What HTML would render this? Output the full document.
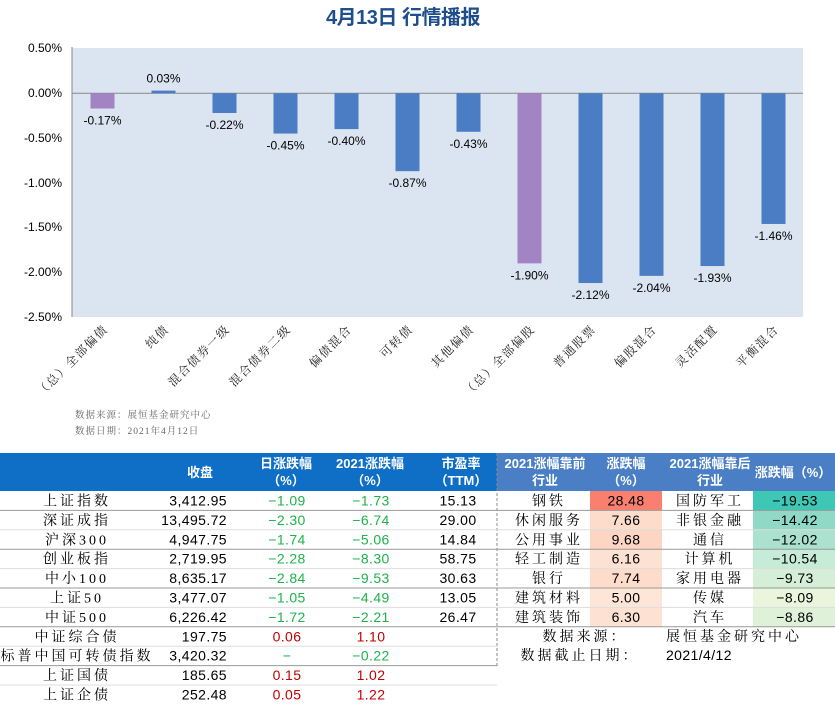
<!DOCTYPE html>
<html><head><meta charset="utf-8"><style>
body{margin:0;width:835px;height:708px;background:#fff;overflow:hidden;position:relative}
svg{position:absolute;left:0;top:0}
.ax{font-family:"Liberation Sans",sans-serif;font-size:12px;fill:#000}
.cat{font-family:"Liberation Serif","Noto Serif CJK SC",serif;font-size:12px;fill:#222;letter-spacing:1.5px}
.t{font-family:"Liberation Sans","Noto Serif CJK SC",serif;font-size:14px;letter-spacing:0.4px}
.c{font-family:"Liberation Serif","Noto Serif CJK SC",serif;font-size:14px;letter-spacing:3px}
.h{font-family:"Liberation Sans","Noto Sans CJK SC",sans-serif;font-size:13px;font-weight:bold;fill:#fff}
</style></head><body>
<svg width="835" height="708" xmlns="http://www.w3.org/2000/svg">
<text x="403" y="24" text-anchor="middle" font-family="'Liberation Sans','Noto Sans CJK SC',sans-serif" font-size="20" font-weight="bold" fill="#1f4e8c" letter-spacing="-0.5">4月13日  行情播报</text>
<rect x="72" y="48" width="731" height="269" fill="#dbe5f1"/>
<line x1="72" y1="47" x2="72" y2="317" stroke="#888"/>
<line x1="72" y1="93.3" x2="803" y2="93.3" stroke="#888"/>
<g class="ax" text-anchor="end">
<text x="62" y="52">0.50%</text><text x="62" y="97">0.00%</text><text x="62" y="142">-0.50%</text><text x="62" y="187">-1.00%</text><text x="62" y="231">-1.50%</text><text x="62" y="276">-2.00%</text><text x="62" y="321">-2.50%</text>
</g>
<g id="bars"></g>
<g class="ax" text-anchor="middle" id="lbl"></g>
<g class="cat" id="cats"></g>
<text x="75" y="418" font-family="'Liberation Serif','Noto Serif CJK SC',serif" font-size="9.5" fill="#666" letter-spacing="1">数据来源：展恒基金研究中心</text>
<text x="75" y="434" font-family="'Liberation Serif','Noto Serif CJK SC',serif" font-size="9.5" fill="#666" letter-spacing="1">数据日期：2021年4月12日</text>

<rect x="0" y="453" width="497" height="38" fill="#0f6fc6"/>
<rect x="497" y="453" width="338" height="38" fill="#4a7fc6"/>
<line x1="497" y1="453" x2="497" y2="668" stroke="#888" stroke-dasharray="3,2"/>
<g class="h" text-anchor="middle">
<text x="200" y="477">收盘</text>
<text x="286" y="468">日涨跌幅</text><text x="286" y="485">（%）</text>
<text x="370" y="468">2021涨跌幅</text><text x="370" y="485">（%）</text>
<text x="461" y="468">市盈率</text><text x="461" y="485">（TTM）</text>
<text x="545" y="468">2021涨幅靠前</text><text x="545" y="485">行业</text>
<text x="626" y="468">涨跌幅</text><text x="626" y="485">（%）</text>
<text x="710" y="468">2021涨幅靠后</text><text x="710" y="485">行业</text>
<text x="793" y="477">涨跌幅（%）</text>
</g>
<g id="tbl"></g>
</svg>
<script>
const ns="http://www.w3.org/2000/svg";
function el(p,tag,attrs,txt){const e=document.createElementNS(ns,tag);for(const k in attrs)e.setAttribute(k,attrs[k]);if(txt!==undefined)e.textContent=txt;document.getElementById(p).appendChild(e);return e;}
const cats=["（总）全部偏债","纯债","混合债券一级","混合债券二级","偏债混合","可转债","其他偏债","（总）全部偏股","普通股票","偏股混合","灵活配置","平衡混合"];
const vals=[-0.17,0.03,-0.22,-0.45,-0.40,-0.87,-0.43,-1.90,-2.12,-2.04,-1.93,-1.46];
const z=93.3,s=89.5;
vals.forEach((v,i)=>{const cx=72+61*i+30.5;const col=(i==0||i==7)?"#a283c3":"#4a7dc4";
const h=Math.abs(v)*s;const y=v>=0?z-h:z;
el("bars","rect",{x:cx-12,y:y,width:24,height:Math.max(h,1.5),fill:col});
const ly=v>=0?z-h-8:z+h+16;
el("lbl","text",{x:cx,y:ly},v.toFixed(2)+"%");
el("cats","text",{x:0,y:0,"text-anchor":"end",transform:`translate(${cx+6},${330}) rotate(-45)`},cats[i]);
});
const rows=[["上证指数","3,412.95","−1.09","−1.73","15.13"],["深证成指","13,495.72","−2.30","−6.74","29.00"],["沪深300","4,947.75","−1.74","−5.06","14.84"],["创业板指","2,719.95","−2.28","−8.30","58.75"],["中小100","8,635.17","−2.84","−9.53","30.63"],["上证50","3,477.07","−1.05","−4.49","13.05"],["中证500","6,226.42","−1.72","−2.21","26.47"],["中证综合债","197.75","0.06","1.10",""],["标普中国可转债指数","3,420.32","−","−0.22",""],["上证国债","185.65","0.15","1.02",""],["上证企债","252.48","0.05","1.22",""]];
const right=[["钢铁","28.48","国防军工","−19.53","#fa7f6f","#3ec7b4"],["休闲服务","7.66","非银金融","−14.42","#fddccb","#8fd9c6"],["公用事业","9.68","通信","−12.02","#fdd5c3","#abe2cf"],["轻工制造","6.16","计算机","−10.54","#fde2d3","#c6ebd6"],["银行","7.74","家用电器","−9.73","#fddccb","#d4eed7"],["建筑材料","5.00","传媒","−8.09","#fde6d8","#e9f5dc"],["建筑装饰","6.30","汽车","−8.86","#fde2d3","#dff1d9"]];
const y0=491,rh=19.4;
right.forEach((r,i)=>{const y=y0+i*rh;
el("tbl","rect",{x:590,y:y,width:72,height:rh,fill:r[4]});
el("tbl","rect",{x:753,y:y,width:82,height:rh,fill:r[5]});});
rows.forEach((r,i)=>{const y=y0+i*rh;const ty=y+14.5;
if(i<10)el("tbl","line",{x1:0,y1:y+rh,x2:(i<7?835:497),y2:y+rh,stroke:(i%2==0?"#999":"#ddd"),"stroke-width":1});
el("tbl","text",{x:77,y:ty,"text-anchor":"middle",class:"c",fill:"#000","letter-spacing":(i==8?"2":"3")},r[0]);
el("tbl","text",{x:227,y:ty,"text-anchor":"end",class:"t",fill:"#000"},r[1]);
el("tbl","text",{x:287,y:ty,"text-anchor":"middle",class:"t",fill:r[2].startsWith("−")?"#1db34a":"#c00000"},r[2]);
el("tbl","text",{x:371,y:ty,"text-anchor":"middle",class:"t",fill:r[3].startsWith("−")?"#1db34a":"#c00000"},r[3]);
el("tbl","text",{x:458,y:ty,"text-anchor":"middle",class:"t",fill:"#000"},r[4]);
if(i<7){const q=right[i];
el("tbl","text",{x:549,y:ty,"text-anchor":"middle",class:"c",fill:"#000"},q[0]);
el("tbl","text",{x:626,y:ty,"text-anchor":"middle",class:"t",fill:"#000"},q[1]);
el("tbl","text",{x:710,y:ty,"text-anchor":"middle",class:"c",fill:"#000"},q[2]);
el("tbl","text",{x:795,y:ty,"text-anchor":"middle",class:"t",fill:"#000"},q[3]);}
});
el("tbl","text",{x:585,y:y0+7*rh+14,"text-anchor":"middle",class:"c",fill:"#000","font-size":"13"},"数据来源：");
el("tbl","text",{x:666,y:y0+7*rh+14,class:"c",fill:"#000","font-size":"13","letter-spacing":"2"},"展恒基金研究中心");
el("tbl","text",{x:580,y:y0+8*rh+14,"text-anchor":"middle",class:"c",fill:"#000","font-size":"13"},"数据截止日期：");
el("tbl","text",{x:666,y:y0+8*rh+14,class:"t",fill:"#000","font-size":"13"},"2021/4/12");
</script>
</body></html>
